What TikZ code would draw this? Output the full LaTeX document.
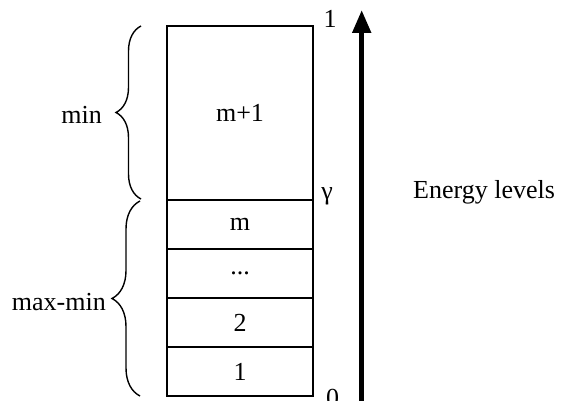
\documentclass[tikz,border=0pt]{standalone}
\usepackage{fontspec}
\setmainfont{Liberation Serif}
\usetikzlibrary{arrows.meta,decorations.pathreplacing}

\tikzset{
  cell/.style={draw, line width=1.8pt, rectangle, inner sep=0pt,
               minimum width=146.5pt, font=\fontsize{26}{30}\selectfont},
  lbl/.style={inner sep=0pt, font=\fontsize{26}{30}\selectfont},
  curly/.style={decorate, decoration={brace, amplitude=25pt}, line width=1.4pt},
  energy/.style={line width=5pt, -{Triangle[width=18pt, length=23pt]}}
}

\begin{document}
\begin{tikzpicture}[x=1pt, y=1pt]
  \useasboundingbox (0,0) rectangle (562,400);

  % stack of levels, from the highest band down to level 1
  \node[cell, minimum height=174pt] (top) at (240,287) {m+1};
  \node[cell, minimum height=49pt]  (lm)  at (240,175.5) {m};
  \node[cell, minimum height=49pt]  (ld)  at (240,126.5) {...};
  \node[cell, minimum height=49pt]  (l2)  at (240,77.5) {2};
  \node[cell, minimum height=49pt]  (l1)  at (240,28.5) {1};

  % scale values at the right edge of the stack
  \node[lbl, anchor=base] (vone)   at (330,372) {1};
  \node[lbl, anchor=base] (vgamma) at (327,201) {γ};
  \node[lbl, anchor=base] (vzero)  at (332.5,-6) {0};

  % energy axis
  \coordinate (axlo) at (361.7,-5);
  \coordinate (axhi) at (361.7,390);
  \draw[energy] (axlo) -- (axhi);
  \node[lbl, anchor=base west] (elev) at (413,202) {Energy levels};

  % braces grouping the bands
  \coordinate (bta) at (141,201);
  \coordinate (btb) at (141,374);
  \coordinate (bba) at (140,4);
  \coordinate (bbb) at (140,199);
  \draw[curly] (bta) -- (btb);
  \draw[curly, decoration={amplitude=28pt}] (bba) -- (bbb);

  \node[lbl, anchor=base east] (lmin)    at (102,277) {min};
  \node[lbl, anchor=base east] (lmaxmin) at (106,90) {max-min};
\end{tikzpicture}
\end{document}
